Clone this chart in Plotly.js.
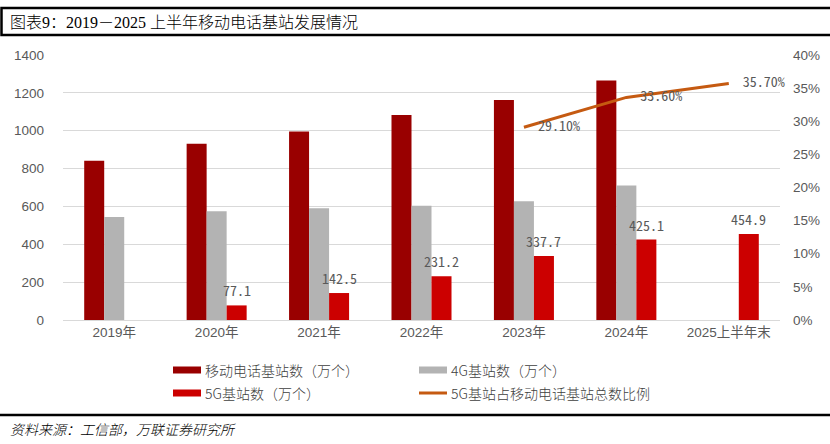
<!DOCTYPE html>
<html>
<head>
<meta charset="utf-8">
<script src="https://cdn.plot.ly/plotly-3.0.1.min.js"></script>
<style>html,body{margin:0;padding:0;background:#fff;}#chart{width:830px;height:444px;}</style>
</head>
<body>
<div id="chart"></div>
<script>
// ---- data ----
const categories = ['2019年', '2020年', '2021年', '2022年', '2023年', '2024年', '2025上半年末'];
const totalStations = [841, 931, 996, 1083, 1162, 1265, null];
const stations4G = [544, 575, 590, 603, 627, 711, null];
const stations5G = [null, 77.1, 142.5, 231.2, 337.7, 425.1, 454.9];
const ratioCats = ['2023年', '2024年', '2025上半年末'];
const ratio5G = [0.291, 0.336, 0.357];
const ratioLabels = ['29.10%', '33.60%', '35.70%'];
const seriesNames = ['移动电话基站数（万个）', '4G基站数（万个）', '5G基站数（万个）', '5G基站占移动电话基站总数比例'];
const titleText = '图表9：2019－2025 上半年移动电话基站发展情况';
const sourceText = '资料来源：工信部，万联证券研究所';

// ---- layout helpers ----
const W = 830, H = 444;
const M = {l: 63, r: 50, t: 55, b: 124};
const PW = W - M.l - M.r, PH = H - M.t - M.b;
const px = X => (X - M.l) / PW;
const py = Y => (H - M.b - Y) / PH;
const BARGAP = 0.414;
const barW = PW / categories.length * (1 - BARGAP) / 3;

const cDark = '#990000', cGray = '#b3b3b3', cRed = '#cc0000', cLine = '#c55a11';
const tickColor = '#595959';
const labelFont = {family: 'Noto Sans Mono CJK SC, Liberation Mono, monospace', size: 14, color: '#595959'};

const traces = [
  {type: 'bar', name: seriesNames[0], x: categories, y: totalStations, marker: {color: cDark}, showlegend: false},
  {type: 'bar', name: seriesNames[1], x: categories, y: stations4G, marker: {color: cGray}, showlegend: false},
  {type: 'bar', name: seriesNames[2], x: categories, y: stations5G, marker: {color: cRed}, showlegend: false},
  {type: 'scatter', mode: 'lines+text', name: seriesNames[3], x: ratioCats, y: ratio5G, yaxis: 'y2',
   line: {color: cLine, width: 3}, text: ratioLabels.map(s => '  ' + s), textposition: 'middle right', textfont: labelFont,
   cliponaxis: false, showlegend: false}
];

const shapes = [];
const annotations = [];
// 5G value labels above the 5G bars
categories.forEach((c, i) => {
  const v = stations5G[i];
  if (v == null) return;
  annotations.push({xref: 'x', yref: 'y', x: c, y: v, xshift: barW, yshift: 15, showarrow: false,
    xanchor: 'center', yanchor: 'middle', text: v.toFixed(1), font: labelFont});
});
// title box
shapes.push({type: 'rect', xref: 'paper', yref: 'paper', x0: px(1.5), x1: px(840), y0: py(8), y1: py(35), line: {color: '#000', width: 2.5}});
annotations.push({xref: 'paper', yref: 'paper', x: px(8), y: py(22), xanchor: 'left', yanchor: 'middle', showarrow: false,
  text: titleText, font: {family: 'Liberation Serif, Noto Sans CJK SC', size: 16, color: '#000', weight: 300}});
// footer
shapes.push({type: 'line', xref: 'paper', yref: 'paper', x0: px(0), x1: px(830), y0: py(415), y1: py(415), line: {color: '#000', width: 2.5}});
annotations.push({xref: 'paper', yref: 'paper', x: px(8), y: py(429), xanchor: 'left', yanchor: 'middle', showarrow: false,
  text: '<i>' + sourceText + '</i>', font: {family: 'Noto Sans CJK SC', size: 14, color: '#000', weight: 300}});

// custom legend
const legendItems = [
  {X: 173, Y: 370, color: cDark, kind: 'bar', name: seriesNames[0]},
  {X: 419, Y: 370, color: cGray, kind: 'bar', name: seriesNames[1]},
  {X: 173, Y: 393, color: cRed, kind: 'bar', name: seriesNames[2]},
  {X: 419, Y: 393, color: cLine, kind: 'line', name: seriesNames[3]}
];
legendItems.forEach(it => {
  if (it.kind === 'bar') {
    shapes.push({type: 'rect', xref: 'paper', yref: 'paper', x0: px(it.X), x1: px(it.X + 28), y0: py(it.Y - 3.5), y1: py(it.Y + 3.5),
      fillcolor: it.color, line: {width: 0}});
  } else {
    shapes.push({type: 'line', xref: 'paper', yref: 'paper', x0: px(it.X), x1: px(it.X + 28), y0: py(it.Y), y1: py(it.Y),
      line: {color: it.color, width: 3}});
  }
  annotations.push({xref: 'paper', yref: 'paper', x: px(it.X + 30), y: py(it.Y), xanchor: 'left', yanchor: 'middle', showarrow: false,
    text: it.name, font: {family: 'Noto Sans CJK SC', size: 14, color: '#404040', weight: 300}});
});

const layout = {
  width: W, height: H,
  margin: M,
  paper_bgcolor: '#fff', plot_bgcolor: '#fff',
  barmode: 'group', bargap: BARGAP, bargroupgap: 0,
  showlegend: false,
  font: {family: 'Liberation Sans, Arial, sans-serif', size: 13.5, color: tickColor},
  xaxis: {type: 'category', categoryorder: 'array', categoryarray: categories, showgrid: false, zeroline: false,
    showline: true, linecolor: '#d9d9d9', linewidth: 1, ticks: '', tickfont: {family: 'Liberation Sans, Noto Sans CJK SC', size: 13.5, color: tickColor}},
  yaxis: {range: [0, 1400], dtick: 200, showgrid: true, gridcolor: '#d9d9d9', gridwidth: 1, zeroline: false, showline: false,
    ticks: '', ticklabelstandoff: 18, tickfont: {size: 13.5, color: tickColor}},
  yaxis2: {range: [0, 0.4], dtick: 0.05, tickformat: '.0%', overlaying: 'y', side: 'right', showgrid: false, zeroline: false,
    showline: false, ticks: '', ticklabelstandoff: 12, tickfont: {size: 13.5, color: tickColor}},
  shapes: shapes,
  annotations: annotations
};

Plotly.newPlot('chart', traces, layout, {displayModeBar: false, staticPlot: true});
</script>
</body>
</html>
